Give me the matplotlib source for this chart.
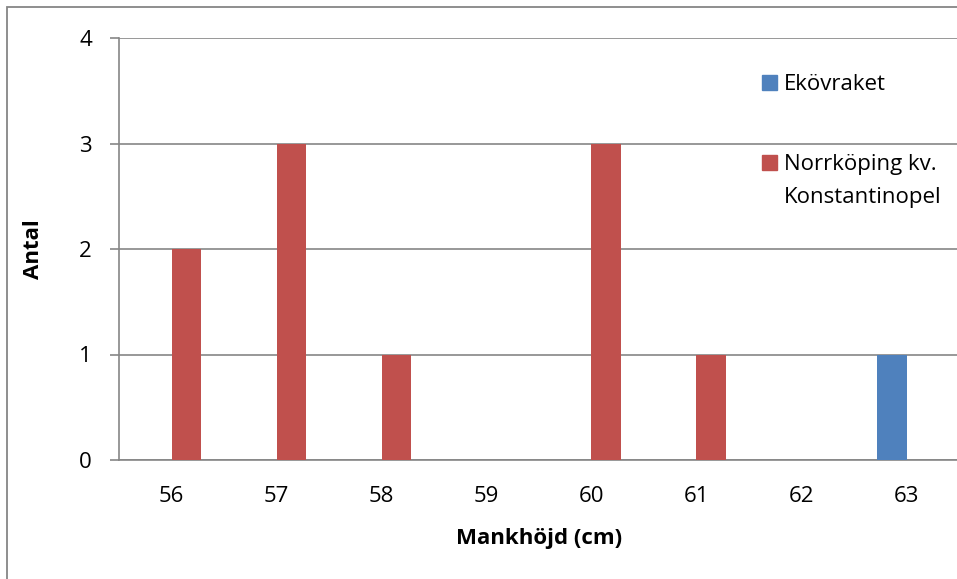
import numpy as np
import matplotlib
matplotlib.use("Agg")
import matplotlib.pyplot as plt
from matplotlib.patches import Rectangle

plt.rcParams["font.family"] = ["Open Sans", "DejaVu Sans"]

categories = ["56", "57", "58", "59", "60", "61", "62", "63"]
ekovraket = [0, 0, 0, 0, 0, 0, 0, 1]
norrkoping = [2, 3, 1, 0, 3, 1, 0, 0]
series_names = ["Ekövraket", "Norrköping kv.\nKonstantinopel"]

BLUE = "#4F81BD"
RED = "#C0504D"
GRAY = "#868686"
FS = 16

W, H = 957, 579
fig = plt.figure(figsize=(W / 100, H / 100), dpi=100)

# outer chart frame (cropped at right/bottom in the original)
fig.patches.append(Rectangle((7 / W, -0.1), 1.2, (H - 7) / H + 0.1, transform=fig.transFigure,
                             fill=False, edgecolor=GRAY, linewidth=1.3))

ax = fig.add_axes([119 / W, 119 / H, 840 / W, 422 / H])
x = np.arange(len(categories))
bw = 0.28
ax.bar(x - bw / 2, ekovraket, width=bw, color=BLUE, zorder=3)
ax.bar(x + bw / 2, norrkoping, width=bw, color=RED, zorder=3)

ax.set_xlim(-0.5, len(categories) - 0.5)
ax.set_ylim(0, 4)
ax.set_yticks([0, 1, 2, 3, 4])
ax.set_xticks(x)
ax.set_xticklabels(categories)
ax.yaxis.grid(True, color=GRAY, linewidth=1.2, zorder=0)
ax.set_axisbelow(True)

for side in ["top", "right"]:
    ax.spines[side].set_visible(False)
for side in ["left", "bottom"]:
    ax.spines[side].set_color(GRAY)
    ax.spines[side].set_linewidth(1.2)

ax.tick_params(axis="y", length=6.5, width=1.2, color=GRAY, pad=13, labelsize=FS)
ax.tick_params(axis="x", length=0, pad=19, labelsize=FS)

ax.set_ylabel("Antal", fontsize=FS, fontweight="bold", labelpad=25)
ax.set_xlabel("Mankhöjd (cm)", fontsize=FS, fontweight="bold", labelpad=15)

# legend (Excel style: key aligned with first text line)
fig.patches.append(Rectangle((762 / W, 1 - 90 / H), 15 / W, 15 / H, transform=fig.transFigure,
                             color=BLUE))
fig.text(784 / W, 1 - 90 / H, series_names[0], fontsize=FS, va="baseline")
fig.patches.append(Rectangle((762 / W, 1 - 170 / H), 15 / W, 15 / H, transform=fig.transFigure,
                             color=RED))
for i, line in enumerate(series_names[1].split("\n")):
    fig.text(784 / W, 1 - (170 + 33 * i) / H, line, fontsize=FS, va="baseline")

fig.savefig("out.png", dpi=100)
